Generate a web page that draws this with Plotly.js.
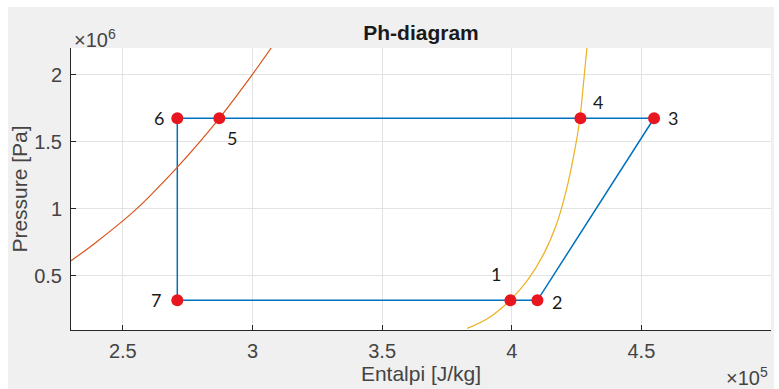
<!DOCTYPE html>
<html>
<head>
<meta charset="utf-8">
<script src="https://cdn.plot.ly/plotly-3.0.1.min.js"></script>
<style>
  html, body { margin:0; padding:0; background:#ffffff; }
  #wrap { position:absolute; left:8px; top:7px; width:766px; height:382px; background:#f0f0f0; }
  #plot { width:766px; height:382px; }
</style>
</head>
<body>
<div id="wrap"><div id="plot"></div></div>
<script>
// ---- Data ----
const stateLabels = ['1', '2', '3', '4', '5', '6', '7'];
const stateH = [3.995e5, 4.099e5, 4.549e5, 4.265e5, 2.872e5, 2.71e5, 2.71e5];   // J/kg
const stateP = [0.315e6, 0.315e6, 1.675e6, 1.675e6, 1.675e6, 1.675e6, 0.315e6]; // Pa
const cycleOrder = [0, 1, 2, 3, 4, 5, 6, 0];

const liqH = [2.30e5, 2.386e5, 2.501e5, 2.553e5, 2.617e5, 2.706e5, 2.872e5, 2.995e5, 3.072e5];
const liqP = [0.61e6, 0.732e6, 0.910e6, 0.998e6, 1.12e6, 1.30e6, 1.675e6, 1.99e6, 2.2e6];

const vapH = [3.828e5, 3.912e5, 3.996e5, 4.059e5, 4.123e5, 4.173e5, 4.21e5, 4.238e5, 4.262e5, 4.278e5, 4.29e5];
const vapP = [0.105e6, 0.185e6, 0.32e6, 0.46e6, 0.66e6, 0.885e6, 1.135e6, 1.385e6, 1.66e6, 1.96e6, 2.2e6];

const xTickVals = [2.5e5, 3e5, 3.5e5, 4e5, 4.5e5];
const xTickText = ['2.5', '3', '3.5', '4', '4.5'];
const yTickVals = [0.5e6, 1e6, 1.5e6, 2e6];
const yTickText = ['0.5', '1', '1.5', '2'];

// ---- Styling ----
const labelShift = { '1': [-14, 26], '2': [20, -2], '3': [19, 0], '4': [18, 16], '5': [13, -20], '6': [-18, 0], '7': [-21, 0] };
const FAM = 'Liberation Sans, Arial, sans-serif';
const axisFont = { family: FAM, size: 20, color: '#444444' };
const labelFont = { family: FAM, size: 21, color: '#444444' };

const traces = [
  { x: cycleOrder.map(i => stateH[i]), y: cycleOrder.map(i => stateP[i]), mode: 'lines',
    line: { color: '#0072BD', width: 1.5 }, hoverinfo: 'skip' },
  { x: liqH, y: liqP, mode: 'lines', line: { color: '#D95319', width: 1.2, shape: 'spline', smoothing: 1 }, hoverinfo: 'skip' },
  { x: vapH, y: vapP, mode: 'lines', line: { color: '#EDB120', width: 1.2, shape: 'spline', smoothing: 1 }, hoverinfo: 'skip' },
  { x: stateH, y: stateP, mode: 'markers', marker: { color: '#E8161F', size: 12 }, hoverinfo: 'skip' }
];

const annotations = stateLabels.map((t, i) => ({
  x: stateH[i], y: stateP[i], xref: 'x', yref: 'y', text: t, showarrow: false,
  xshift: labelShift[t][0], yshift: labelShift[t][1],
  font: { family: 'Lato, Noto Sans, sans-serif', size: 18, color: '#1a1a1a' }
}));
annotations.push({
  xref: 'paper', yref: 'paper', x: 0, y: 1, xanchor: 'left', yanchor: 'middle',
  xshift: 1, yshift: 10, showarrow: false, text: '×10<sup>6</sup>', font: axisFont
});
annotations.push({
  xref: 'paper', yref: 'paper', x: 1, y: 0, xanchor: 'right', yanchor: 'middle',
  xshift: -1, yshift: -46, showarrow: false, text: '×10<sup>5</sup>', font: axisFont
});

const layout = {
  width: 766, height: 382,
  margin: { l: 63, r: 3, t: 41, b: 59 },
  paper_bgcolor: '#f0f0f0', plot_bgcolor: '#ffffff',
  showlegend: false,
  title: { text: 'Ph-diagram', x: 0.5, xref: 'paper', y: 1 - 26 / 382, yref: 'container', yanchor: 'middle',
           font: { family: FAM, size: 21, weight: 'bold', color: '#1a1a1a' } },
  xaxis: {
    range: [2.3e5, 5e5], tickvals: xTickVals, ticktext: xTickText,
    ticks: 'inside', ticklen: 5, tickcolor: '#262626', showline: true, linecolor: '#262626', linewidth: 1,
    showgrid: true, gridcolor: '#e3e3e3', gridwidth: 1, zeroline: false, mirror: false,
    tickfont: axisFont, ticklabelstandoff: 3,
    title: { text: 'Entalpi [J/kg]', font: labelFont, standoff: 4 }
  },
  yaxis: {
    range: [0.093e6, 2.2e6], tickvals: yTickVals, ticktext: yTickText,
    ticks: 'inside', ticklen: 5, tickcolor: '#262626', showline: true, linecolor: '#262626', linewidth: 1,
    showgrid: true, gridcolor: '#e3e3e3', gridwidth: 1, zeroline: false, mirror: false,
    tickfont: axisFont, ticklabelstandoff: 4,
    title: { text: 'Pressure [Pa]', font: labelFont, standoff: 4 }
  },
  annotations: annotations
};

Plotly.newPlot('plot', traces, layout, { displayModeBar: false, staticPlot: true });
</script>
</body>
</html>
